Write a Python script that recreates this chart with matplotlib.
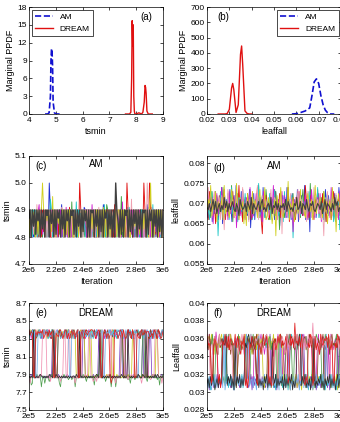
import numpy as np
import matplotlib
matplotlib.use('Agg')
from matplotlib import pyplot as plt

plt.rcParams['font.family'] = ['Liberation Sans', 'DejaVu Sans']
plt.rcParams['font.size'] = 6
plt.rcParams['axes.linewidth'] = 0.5

# (a) marginal PPDF of tsmin
tsmin_am_x = [4.6, 4.7, 4.75, 4.8, 4.82, 4.84, 4.86, 4.88, 4.9, 4.95, 5.0, 5.1, 5.2]
tsmin_am_y = [0, 0, 0.2, 3, 9, 11, 10.5, 8, 2, 0.2, 0, 0, 0]
tsmin_dr_x = [7.6, 7.75, 7.8, 7.83, 7.85, 7.87, 7.89, 7.91, 7.93, 7.95, 8.0, 8.1, 8.2,
              8.25, 8.3, 8.33, 8.35, 8.37, 8.4, 8.45, 8.5, 8.6]
tsmin_dr_y = [0, 0, 0.3, 6, 15.7, 11.5, 15, 3, 0.5, 0, 0, 0.2, 0,
              0.3, 2, 4.8, 4.5, 3.5, 0.5, 0, 0, 0]

# (b) marginal PPDF of leaffall
leaf_am_x = [0.058, 0.06, 0.062, 0.064, 0.066, 0.067, 0.068, 0.069, 0.070, 0.071,
             0.072, 0.073, 0.074, 0.075, 0.077]
leaf_am_y = [0, 2, 10, 20, 40, 120, 210, 230, 200, 120, 60, 25, 8, 0, 0]
leaf_dr_x = [0.025, 0.028, 0.029, 0.030, 0.031, 0.0315, 0.032, 0.033, 0.034, 0.035,
             0.0355, 0.036, 0.037, 0.038, 0.039, 0.040]
leaf_dr_y = [0, 0, 2, 30, 170, 200, 160, 10, 60, 390, 445, 320, 20, 3, 0, 0]

# chain samples: one character = one sample,
# base-36 digit k -> base + k * step (spaces only group the digits)
# (c) AM tsmin, 4.80 + 0.01 k
am_tsmin = [
    "0a3a08a50a 2a0a60a0ka 0a4a1a0a7c 0a2a0a5a0a 3a0a8a0a1b a0a4a0a6a0 a2a0a0c9a0 a1a0a3a0a5 0a0a7a0b2a 0a4a0a8a0a 3a0a0c5a0a 1a0a6a0a2a",
    "a0a3a05a0a 0b0a2a0a70 a0a4a0a1a0 a0a6a0a0d0 a2a0a8a0a0 3a0a0a5a0a 0a1a0a7a0c a0a2a0a4a0 a0f0a3a0a6 0a0a1a0a8a a0a2a0b0a4 0a6a0a0a3a",
    "8a0a5a1a0a a0a2a0a6a0 0a3a0a0a9a a0a1a0b0a4 0a7a0ka0a2 a0a0a5a0a3 0a0a8a0a1a a4a0a0c0a6 0a2a0a0ka0 a3a0a0a7a0 a0ka0a0ka5 0a1a0a4a0a",
    "a4a0a8a01a 0a6a0a0a3e a0a2a0a7a0 a0a5a0a1a0 a0d0a3a0a6 0a0a2a0a8a 0a4a0a0c0a 1a0a6a0a0a 3a0a0a9a0b 0a5a0a1a0a a0a4a0a7a0 c0a2a0a0a6",
    "3a0a6a0a9c 0a1a0a5a0a a2a0a0a8a0 4a0b0a1a0a 0a6a0a0a3a a0a7a0c2a0 a0a1a0a5a0 0a9a0a0a2a 0a0d0a4a0a a1a0a7a0a0 3a0a0a6a0b 0a2a0a0a8a",
    "6a0a1a0c4a 0a5a0a0a8a 0a2a0a7a0b a0a3a0a0a6 0a1a0a9a0a a4a0a0a2a0 a0b0a6a0a3 0a0a8a0a1a a0a5a0a0a2 0e0a3a0a7a 0a0a0ka0a4 a0a6a0a1a0",
    "0a3a8a0a1a 0aka0a6a0a 2f0a0a5a0a a0a1a0a7a0 0a4a0a0a2a 9a0a0a3a0a a0a6a0b0a0 1a0a0a5a0a a0a2a0a8a0 0a0a4a0a1a 0a3a0a0ak0 a0a6a0a2a0",
    "7a0a4a1a6a 0a3a0a8a0a 5a0a1a7a0a 3a0a6a0a8a 1a0a4a0a2a 6a0a0a9a0a 4a0a2a0a7a 0a3a0a0ka6 0a1a0a8a0a 2a0a5a0a3a 0a9a0a1a6a 0a4a0a2a0a",
]

# (d) AM leaffall, 0.060 + 0.0005 k
am_leaf = [
    "kdmhpbjfqg lcngsaiohm egribkoftj cmhqdkgnie lr8jhpcmgk fnjbshdogl ipehlcqjfm 9kgohndsjf lcpimegrbk hoejtcmgl6 qfkhndjpgi emchrkfoij dlgpbmhskf",
    "gmidqhkeoj flhsckgnei tbmjhpdkgr fnhjcqimel gktdjohfrk chnmjeqgl7 okhdmjsfig pcljhndkrg emjcuhfogk ljdnhqbmig kfrcjohmel",
    "icqgmekajh oemjrckhfn iqdlghtfjb mkepgicnhl jsfkd5mhoi gcnjhrelgp dkimhfsbjg nhcmqkfjei tlgdohkcmj rfiepgkbnh lcjqhmfogd",
    "mhclqfikn4 jqgmekhpci sfjhlbnmgk dpifhrjcmg kiuegnhdlj gpcmirfkeh njbqgldmho 3khjpgemfl ickqhmfojg sdlhkcgnpe jhmbfoil7k",
    "dqjhnakipe mgsdjhlcqf ikgo8mhejr fcnlhskdgi pemjgbqlhk dinhtfjcmg kqeoidlhgm 6jnkhqfgle ohcmgrjdki nfpbhmkgil dsjmhekcqg",
    "jshkdmqgei ncoj7lhrfk imdgpjckhs eijnbmhqfl gtckjoeimh dkrhfnlcjg q5mhkeijpd lgnhrcimkf jbqgldhsek mfich4njqh gkemlpdjih",
    "gmjtekhqbl ignctfjkdh rmgeujcnhl ai9pgkhqfm jdkrhlgsce njhagm4oik sfdjlhvckg nbemfjrhkg dlpigmchtf kjnhdqglai mcshk6jphg",
    "ihkgjmhlfi kgjhnilgkh jlhgkiemjh ikgljhnfki hjlgkmhigj khnfjilhkg jikhmgljhi gkjnhilfkj hmigkjlhgi kjhlfimhkj igkhnjlgih",
]
am_colors = ['#2030d0', '#40a040', '#e01010', '#20c8c8', '#d020d0', '#f0a0b0', '#d0d020', '#404040']

# (e) DREAM tsmin, 7.70 + 0.02 k
dr_tsmin = [
    "wyuz98xvyw zuxyxyvzxu wy98uzxwyv xwzwuxvyyz wuxv89yzwx uwyzyxwvzx uzwy98xuzw vyzxzwuxwy yzwxuv89zy wxzuuzywxv xvzu98ywzx uzwwzyvxyx",
    "98a9yz8989 a98989898a 9zy898a989 8989a98989 98989a98yx 98a9898a98 98ya989898 98a9898989 8uz98a9898 989a898a98 9z898a9wy8 98a98989a9",
    "xzwy98uvzx ywzxzxuwyv zx98uywzvx yuzwzwxyuz wv98xyzuwx 98a9yz9898 a98989898a 8a98zy98a9 89898a98a8 98zx98a989 8a98a98989 a98zu98989",
    "uywz89xvyz uwxyzyzuvy xzwu89yxzv wyuzxzxwyz uvxz89wyuz xvywyxzuxy zwvu89xzyw uxzyvzvwuz yxzw89uvyx zwuyxyxzvw yuxz89wyzu xvzwzxyuxz",
    "8945yz8a98 9389589868 a9zu989539 8a98978978 9389zw98a9 8698989849 8a9yz98968 9893889389 98uz989878 5989789a98 8zw9869898 a98979498a",
    "xwyz98uvxz wyuzyxzwyv uzxw98yzux wvyzuzxwuy zxvw98uyzx wzyuxwvxzw yxuz98wyvx zuwyvxxzyv wxuz98ywzx vuyxwyzwyu zxwy98vuzx wyzuyzxwyz",
    "8598xw9898 a9xwzy9896 98xz989869 ayw98xz989 8598zxw989 a98yz98679 6989xzw898 a98z989598 98xyw98979 9a98xw9898 5989zw9878 a9yzx98959",
    "yxwzuy89vz wyuzxwzyyv zuxwyzwxuv wyzxuz98wy uwvzxyvyuz xwyvzuwyxw zyuvxz89wy uzxwyvyxzu xwyzuvzwxz wyuxzw98vy zxuwyzxyvx zuwyxvuwzy",
    "9898z98989 a9989898a9 98y8a98989 8989898989 98a98y8989 8989898989 a98x989898 98a8989898 98a98989z9 8989898a98 8a98y89898 98a8a98989",
    "zwyx98zwyx yxzuwyxvzw yu89xwvyzx uwzyuxuvzw yuxz89wyvu zxwyyzzyxu wyzx89wzyu xw9589zyxu wzyvzvuwzx yuzw89xvuy zwxzxyywvx uzywuzxuvy",
]

# (f) DREAM leaffall, 0.0300 + 0.00025 k
dr_leaf = [
    "mjqlohnkrm 4725mkploj nqkm3638lp jmohkqln45 72mplojnqk mhlp3746og kmjqnlo5k3 mpkqjlnmoh 2645mjqlpk onmj4736lq hmkpojl5m3 qnjmokl7pm",
    "4617352648 2537mpk463 52741mo852 4736lo5248 17364kn537 4625mkq374 2816473526 47m5182647 3526oqm482 53726p8153 7264n35271 463825l746",
    "lpjmqkohnl mkoqjlmpnk jqml4638op knmjqlpomk hlnpjqmkol 5274mpjnkq lomjpqkn36 4825163748 2536174826 3748152637 4826173548 2637481526",
    "5371648256 3748mqk482 6374152637 4825nlpmjq kolmpnqjkm olpkn36472 5183647253 4816mqoklp njmq374826 1537482635 7482615374 8263517482",
    "nkplmq47mk hpnl4738mq kjol36mkqh lmojn5274k mqjn35okhm qnlmkopjmn lk37om3728 jnlqmk46pn mjqklonmpj 4627lmkqon jm53kqnmoh pkmlnq74mk",
    "ljqm46nplh mqkojnlpmk qhml3627ok njlp53komj nhpkqlomjn kmpql46253 moj47qplmh jqnmlpokjm ql53mkopjn lqmkp3746o mjnq64pomh nqlmjokpnm",
    "mok37lnpmk hqlmojnkpm qjl46mkohl mqnj5264kq mljonpqkmh lnpqmk4736 mjo53lnpmh jqkmolpnkm ql74mpjokm qnlmvkpojm hqnkmloj37 pm46lnojmk",
    "5274163825 47382n1547 3625184736 2748mqnk35 62741l3526 4837162548 37261o4837 2648153726 48153m2748 2637154826 374816q537 4826153748",
    "4627385146 2735omlq37 48261n3748 2637mkoqnl pmkj482635 17482635m7 4826354718 2637481526 mlqk374825 36174o2536 4825163748 2637158264",
    "qlmj46komh 4827nlqmkp jonmlqkpmj hnlq3627mk pnlj53mkhm qlnpk4736m ojlpmqknlm pj47qlokvm nlpkqj5374 mkqo36pjmk hqmlonpkqm jn64mkqomj",
]
dr_colors = ['#d030c0', '#8040c0', '#c8c820', '#30c0c8', '#50a050', '#904020', '#f090b0', '#70b0e8', '#303030', '#e02020']

am_iter = [2e6, 3e6]
dr_iter = [2e5, 3e5]
am_xticks = ['2e6', '2.2e6', '2.4e6', '2.6e6', '2.8e6', '3e6']
dr_xticks = ['2e5', '2.2e5', '2.4e5', '2.6e5', '2.8e5', '3e5']

W, H = 340, 422
fig = plt.figure(figsize=(W / 100, H / 100), dpi=100)


def box(x0, y0, x1, y1):
    return fig.add_axes([x0 / W, 1 - y1 / H, (x1 - x0) / W, (y1 - y0) / H])


def style(ax):
    ax.tick_params(direction='in', length=2.5, width=0.5, top=True, right=True)
    ax.tick_params(axis='x', pad=2.5)
    ax.tick_params(axis='y', pad=1.5)


def decode(s, base, step):
    return np.array([base + step * int(ch, 36) for ch in s.replace(' ', '')])


def trace(ax, chains, colors, base, step, rng, lw=0.55, last_lw=None):
    for i, (c, col) in enumerate(zip(chains, colors)):
        v = decode(c, base, step)
        it = np.linspace(rng[0], rng[1], len(v))
        w = last_lw if (last_lw and i == len(chains) - 1) else lw
        ax.plot(it, v, color=col, lw=w)


# (a)
ax = box(29, 7, 163, 114)
ax.plot(tsmin_am_x, tsmin_am_y, '--', color='#1010d0', lw=1.2, label='AM')
ax.plot(tsmin_dr_x, tsmin_dr_y, '-', color='#e01010', lw=1.0, label='DREAM')
ax.set_xlim(4, 9)
ax.set_ylim(0, 18)
ax.set_xticks(range(4, 10))
ax.set_yticks(range(0, 19, 3))
ax.set_xlabel('tsmin', labelpad=2, fontsize=6.5)
ax.set_ylabel('Marginal PPDF', labelpad=2, fontsize=6.5)
ax.text(0.92, 0.88, '(a)', transform=ax.transAxes, ha='right', fontsize=7)
leg = ax.legend(loc='upper left', fontsize=6, handlelength=2.2, borderaxespad=0.3,
                fancybox=False, edgecolor='black', framealpha=1)
leg.get_frame().set_linewidth(0.5)
style(ax)

# (b)
ax = box(207, 7, 341, 114)
ax.plot(leaf_am_x, leaf_am_y, '--', color='#1010d0', lw=1.2, label='AM')
ax.plot(leaf_dr_x, leaf_dr_y, '-', color='#e01010', lw=1.0, label='DREAM')
ax.set_xlim(0.02, 0.08)
ax.set_ylim(0, 700)
ax.set_xticks(np.arange(0.02, 0.081, 0.01))
ax.set_xticklabels(['0.02', '0.03', '0.04', '0.05', '0.06', '0.07', '0.08'])
ax.set_yticks(range(0, 701, 100))
ax.set_xlabel('leaffall', labelpad=2, fontsize=6.5)
ax.set_ylabel('Marginal PPDF', labelpad=2, fontsize=6.5)
ax.text(0.08, 0.88, '(b)', transform=ax.transAxes, ha='left', fontsize=7)
leg = ax.legend(loc='upper right', fontsize=6, handlelength=2.2, borderaxespad=0.3,
                fancybox=False, edgecolor='black', framealpha=1)
leg.get_frame().set_linewidth(0.5)
style(ax)

# (c)
ax = box(29, 156, 163, 264)
trace(ax, am_tsmin, am_colors, 4.80, 0.01, am_iter, lw=0.65, last_lw=1.0)
ax.set_xlim(2e6, 3e6)
ax.set_ylim(4.7, 5.1)
ax.set_xticks(np.linspace(2e6, 3e6, 6))
ax.set_xticklabels(am_xticks)
ax.set_yticks([4.7, 4.8, 4.9, 5.0, 5.1])
ax.set_yticklabels(['4.7', '4.8', '4.9', '5.0', '5.1'])
ax.set_xlabel('Iteration', labelpad=2, fontsize=6.5)
ax.set_ylabel('tsmin', labelpad=2, fontsize=6.5)
ax.text(0.05, 0.88, '(c)', transform=ax.transAxes, fontsize=7)
ax.text(0.5, 0.9, 'AM', transform=ax.transAxes, ha='center', fontsize=7)
style(ax)

# (d)
ax = box(207, 156, 341, 264)
trace(ax, am_leaf, am_colors, 0.060, 0.0005, am_iter, lw=0.6, last_lw=0.8)
ax.set_xlim(2e6, 3e6)
ax.set_ylim(0.055, 0.0818)
ax.set_xticks(np.linspace(2e6, 3e6, 6))
ax.set_xticklabels(am_xticks)
ax.set_yticks([0.055, 0.06, 0.065, 0.07, 0.075, 0.08])
ax.set_yticklabels(['0.055', '0.06', '0.065', '0.07', '0.075', '0.08'])
ax.set_xlabel('Iteration', labelpad=2, fontsize=6.5)
ax.set_ylabel('leaffall', labelpad=2, fontsize=6.5)
ax.text(0.05, 0.86, '(d)', transform=ax.transAxes, fontsize=7)
ax.text(0.5, 0.88, 'AM', transform=ax.transAxes, ha='center', fontsize=7)
style(ax)

# (e)
ax = box(29, 303, 163, 410)
trace(ax, dr_tsmin, dr_colors, 7.70, 0.02, dr_iter)
ax.set_xlim(2e5, 3e5)
ax.set_ylim(7.5, 8.7)
ax.set_xticks(np.linspace(2e5, 3e5, 6))
ax.set_xticklabels(dr_xticks)
ax.set_yticks([7.5, 7.7, 7.9, 8.1, 8.3, 8.5, 8.7])
ax.set_yticklabels(['7.5', '7.7', '7.9', '8.1', '8.3', '8.5', '8.7'])
ax.set_ylabel('tsmin', labelpad=2, fontsize=6.5)
ax.text(0.05, 0.88, '(e)', transform=ax.transAxes, fontsize=7)
ax.text(0.5, 0.88, 'DREAM', transform=ax.transAxes, ha='center', fontsize=7)
style(ax)

# (f)
ax = box(207, 303, 341, 410)
trace(ax, dr_leaf, dr_colors, 0.0300, 0.00025, dr_iter)
ax.set_xlim(2e5, 3e5)
ax.set_ylim(0.028, 0.04)
ax.set_xticks(np.linspace(2e5, 3e5, 6))
ax.set_xticklabels(dr_xticks)
ax.set_yticks([0.028, 0.03, 0.032, 0.034, 0.036, 0.038, 0.04])
ax.set_yticklabels(['0.028', '0.03', '0.032', '0.034', '0.036', '0.038', '0.04'])
ax.set_ylabel('Leaffall', labelpad=2, fontsize=6.5)
ax.text(0.05, 0.88, '(f)', transform=ax.transAxes, fontsize=7)
ax.text(0.5, 0.88, 'DREAM', transform=ax.transAxes, ha='center', fontsize=7)
style(ax)

fig.savefig('out.png', dpi=100)
